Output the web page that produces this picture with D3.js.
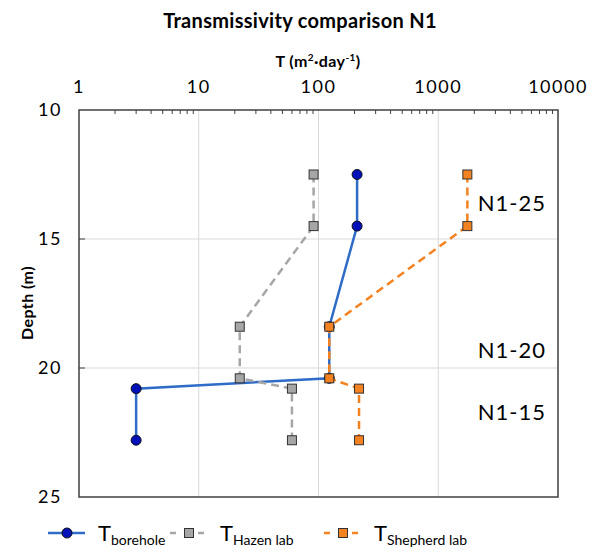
<!DOCTYPE html>
<html>
<head>
<meta charset="utf-8">
<script src="https://cdn.jsdelivr.net/npm/d3@7"></script>
<style>
  body { margin: 0; background: #fff; }
  svg { font-family: "Lato", "Noto Sans", sans-serif; }
</style>
</head>
<body>
<svg id="chart" width="596" height="553"></svg>
<script>
// data
const depths = [12.5, 14.5, 18.4, 20.4, 20.8, 22.8];
const tBorehole = [210, 210, 123, 123, 3, 3];
const tHazen = [91, 91, 22, 22, 60, 60];
const tShepherd = [1750, 1750, 123, 123, 218, 218];
const xTicks = [1, 10, 100, 1000, 10000];
const yTicks = [10, 15, 20, 25];
const zoneLabels = [
    { text: "N1-25", depth: 13.9 },
    { text: "N1-20", depth: 19.6 },
    { text: "N1-15", depth: 22.0 }
];

const svg = d3.select("#chart");
const margin = { left: 79, top: 110, right: 38, bottom: 56 };
const width = 596 - margin.left - margin.right;
const height = 553 - margin.top - margin.bottom;

const x = d3.scaleLog().domain([1, 10000]).range([0, width]);
const y = d3.scaleLinear().domain([10, 25]).range([0, height]);

const g = svg.append("g").attr("transform", `translate(${margin.left},${margin.top})`);

// grid
g.append("g").selectAll("line")
    .data(xTicks.slice(1, -1))
    .enter().append("line")
    .attr("x1", d => x(d)).attr("x2", d => x(d))
    .attr("y1", 0).attr("y2", height)
    .attr("stroke", "#d9d9d9").attr("stroke-width", 1);

g.append("g").selectAll("line")
    .data(yTicks.slice(1, -1))
    .enter().append("line")
    .attr("x1", 0).attr("x2", width)
    .attr("y1", d => y(d)).attr("y2", d => y(d))
    .attr("stroke", "#d9d9d9").attr("stroke-width", 1);

// minor ticks along the top (inside)
const minor = [];
for (let dec = 1; dec < 10000; dec *= 10) {
    for (let k = 2; k <= 9; k++) minor.push(dec * k);
}
g.append("g").selectAll("line")
    .data(minor)
    .enter().append("line")
    .attr("x1", d => x(d)).attr("x2", d => x(d))
    .attr("y1", 0).attr("y2", 4)
    .attr("stroke", "#404040").attr("stroke-width", 1);

// left major ticks inside
g.append("g").selectAll("line")
    .data(yTicks.slice(1, -1))
    .enter().append("line")
    .attr("x1", 0).attr("x2", 6)
    .attr("y1", d => y(d)).attr("y2", d => y(d))
    .attr("stroke", "#404040").attr("stroke-width", 1);

// frame
g.append("rect")
    .attr("width", width).attr("height", height)
    .attr("fill", "none").attr("stroke", "#404040").attr("stroke-width", 1.5);

// tick labels
g.append("g").selectAll("text")
    .data(xTicks)
    .enter().append("text")
    .attr("x", d => x(d)).attr("y", -17)
    .attr("text-anchor", "middle")
    .attr("font-size", 18).attr("letter-spacing", 1.5).attr("fill", "#000")
    .text(d => d);

g.append("g").selectAll("text")
    .data(yTicks)
    .enter().append("text")
    .attr("x", -17).attr("y", d => y(d))
    .attr("dy", "0.35em")
    .attr("text-anchor", "end")
    .attr("font-size", 18).attr("letter-spacing", 1.5).attr("fill", "#000")
    .text(d => d);

// titles
svg.append("text")
    .attr("x", 300).attr("y", 28)
    .attr("text-anchor", "middle")
    .attr("font-size", 20).attr("font-weight", "bold").attr("letter-spacing", 0.3)
    .text("Transmissivity comparison N1");

const xt = svg.append("text")
    .attr("x", 318).attr("y", 67)
    .attr("text-anchor", "middle")
    .attr("font-size", 16).attr("font-weight", "bold").attr("letter-spacing", 0.4);
xt.append("tspan").text("T (m");
xt.append("tspan").attr("font-size", 10).attr("dy", -6).text("2");
xt.append("tspan").attr("dy", 6).text("·day");
xt.append("tspan").attr("font-size", 10).attr("dy", -6).text("-1");
xt.append("tspan").attr("dy", 6).text(")");

svg.append("text")
    .attr("transform", "translate(33,303) rotate(-90)")
    .attr("text-anchor", "middle")
    .attr("font-size", 16).attr("font-weight", "bold").attr("letter-spacing", 0.4)
    .text("Depth (m)");

// zone labels
g.append("g").selectAll("text")
    .data(zoneLabels)
    .enter().append("text")
    .attr("x", width - 12).attr("y", d => y(d.depth))
    .attr("text-anchor", "end")
    .attr("font-size", 22).attr("letter-spacing", 1).attr("fill", "#000")
    .text(d => d.text);

// series
const series = [
    { name: "borehole", values: tBorehole, color: "#2f6cc8", dash: null, shape: "circle", fill: "#0010b8" },
    { name: "Hazen lab", values: tHazen, color: "#a6a6a6", dash: "8,5", shape: "square", fill: "#a6a6a6" },
    { name: "Shepherd lab", values: tShepherd, color: "#f58220", dash: "8,5", shape: "square", fill: "#f58220" }
];

const line = d3.line().x(d => x(d[0])).y(d => y(d[1]));

series.forEach(s => {
    const pts = s.values.map((v, i) => [v, depths[i]]);
    g.append("path")
        .datum(pts)
        .attr("d", line)
        .attr("fill", "none")
        .attr("stroke", s.color)
        .attr("stroke-width", 2.5)
        .attr("stroke-dasharray", s.dash);
    drawMarkers(g, pts.map(p => [x(p[0]), y(p[1])]), s);
});

function drawMarkers(parent, coords, s) {
    if (s.shape === "circle") {
        parent.append("g").selectAll("circle")
            .data(coords)
            .enter().append("circle")
            .attr("cx", d => d[0]).attr("cy", d => d[1])
            .attr("r", 5)
            .attr("fill", s.fill).attr("stroke", "#111").attr("stroke-width", 1);
    } else {
        parent.append("g").selectAll("rect")
            .data(coords)
            .enter().append("rect")
            .attr("x", d => d[0] - 4.5).attr("y", d => d[1] - 4.5)
            .attr("width", 9).attr("height", 9)
            .attr("fill", s.fill).attr("stroke", "#333").attr("stroke-width", 1);
    }
}

// legend
const legendX = [48, 170, 324];
const legend = svg.append("g").attr("transform", "translate(0,533)");
series.forEach((s, i) => {
    const lx = legendX[i];
    legend.append("line")
        .attr("x1", lx).attr("x2", lx + 37)
        .attr("y1", 0).attr("y2", 0)
        .attr("stroke", s.color).attr("stroke-width", 2.5)
        .attr("stroke-dasharray", s.dash ? "6,8" : null);
    drawMarkers(legend, [[lx + 19, 0]], s);
    const t = legend.append("text")
        .attr("x", lx + 50).attr("y", 8)
        .attr("font-size", 22);
    t.append("tspan").text("T");
    t.append("tspan").attr("font-size", 14).attr("dy", 4).text(s.name);
});
</script>
</body>
</html>
